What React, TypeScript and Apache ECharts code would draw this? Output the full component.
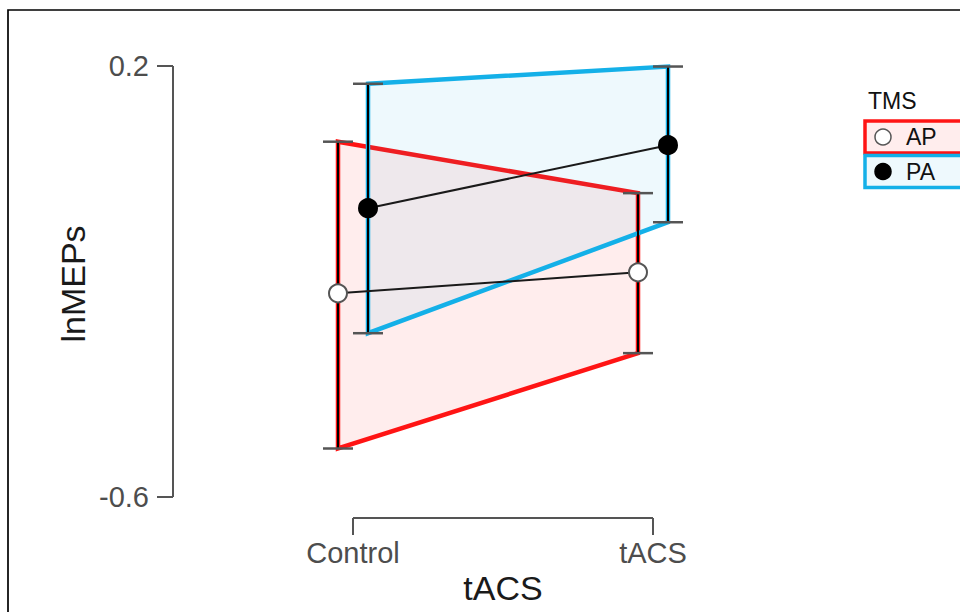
import React, { useEffect, useRef } from "react";
import * as echarts from "echarts";

const categories = ["Control", "tACS"];
const groupNames = ["AP", "PA"];
const apMean = [-0.222, -0.183];
const apLower = [-0.51, -0.333];
const apUpper = [0.0595, -0.036];
const paMean = [-0.064, 0.053];
const paLower = [-0.296, -0.09];
const paUpper = [0.167, 0.199];
const yTicks = [0.2, -0.6];
const legendTitle = "TMS";

const DODGE = 0.05;
const Y_MIN = -0.639;
const Y_MAX = 0.25;
const X_MIN = -0.6;
const X_MAX = 1.2;

const RED = "#ff1414";
const BLUE = "#14b0e8";
const FONT = "Liberation Sans";

type Group = { name: string; mean: number[]; lower: number[]; upper: number[]; dx: number; stroke: string; fill: string; pointFill: string };

const groups: Group[] = [
  { name: groupNames[0], mean: apMean, lower: apLower, upper: apUpper, dx: -DODGE, stroke: RED, fill: "rgba(255,0,0,0.07)", pointFill: "#ffffff" },
  { name: groupNames[1], mean: paMean, lower: paLower, upper: paUpper, dx: DODGE, stroke: BLUE, fill: "rgba(19,176,232,0.072)", pointFill: "#000000" },
];

export default function App() {
  const ref = useRef<HTMLDivElement>(null);
  useEffect(() => {
    if (!ref.current) return;
    const chart = echarts.init(ref.current, undefined, { renderer: "svg" });
    const series: any[] = [];
    // axis brackets
    series.push({
      type: "line",
      silent: true,
      clip: false,
      symbol: "none",
      data: [[X_MIN, yTicks[0]], [X_MIN, yTicks[1]]],
      lineStyle: { color: "#555555", width: 2 },
      z: 1,
    });
    series.push({
      type: "line",
      silent: true,
      clip: false,
      symbol: "none",
      data: [[0, Y_MIN], [categories.length - 1, Y_MIN]],
      lineStyle: { color: "#555555", width: 2 },
      z: 1,
    });
    groups.forEach((g) => {
      const rows = categories.map((_, i) => [i + g.dx, g.lower[i], g.upper[i]]);
      series.push({
        type: "custom",
        name: g.name + "-band",
        clip: false,
        silent: true,
        z: 2,
        data: [rows[0]],
        encode: { x: 0, y: [1, 2] },
        renderItem: (params: any, api: any) => {
          const top = rows.map((r) => api.coord([r[0], r[2]]));
          const bot = rows.slice().reverse().map((r) => api.coord([r[0], r[1]]));
          return {
            type: "polygon",
            shape: { points: [...top, ...bot] },
            style: { fill: g.fill, stroke: g.stroke, lineWidth: 4.5, lineJoin: "miter" },
          };
        },
      });
    });
    groups.forEach((g) => {
      const rows = categories.map((_, i) => [i + g.dx, g.lower[i], g.upper[i]]);
      series.push({
        type: "custom",
        name: g.name + "-err",
        clip: false,
        silent: true,
        z: 3,
        data: rows,
        encode: { x: 0, y: [1, 2] },
        renderItem: (params: any, api: any) => {
          const x = api.value(0);
          const hi = api.coord([x, api.value(2)]);
          const lo = api.coord([x, api.value(1)]);
          const hw = 15;
          return {
            type: "group",
            children: [
              { type: "line", shape: { x1: hi[0], y1: hi[1], x2: lo[0], y2: lo[1] }, style: { stroke: "#000000", lineWidth: 2 } },
              { type: "line", shape: { x1: hi[0] - hw, y1: hi[1], x2: hi[0] + hw, y2: hi[1] }, style: { stroke: "#555555", lineWidth: 2.5 } },
              { type: "line", shape: { x1: lo[0] - hw, y1: lo[1], x2: lo[0] + hw, y2: lo[1] }, style: { stroke: "#555555", lineWidth: 2.5 } },
            ],
          };
        },
      });
    });
    groups.forEach((g) => {
      series.push({
        type: "line",
        name: g.name,
        z: 4,
        clip: false,
        data: categories.map((_, i) => [i + g.dx, g.mean[i]]),
        symbol: "circle",
        symbolSize: 18,
        lineStyle: { color: "#1a1a1a", width: 2 },
        itemStyle: { color: g.pointFill, borderColor: g.pointFill === "#ffffff" ? "#555555" : "#000000", borderWidth: 2 },
      });
    });

    const legendItems: any[] = [
      { type: "text", left: 868, top: 89, style: { text: legendTitle, fontSize: 23, fill: "#111111", fontFamily: FONT } },
    ];
    groups.forEach((g, i) => {
      const y0 = 121 + i * 34.5;
      legendItems.push({ type: "rect", shape: { x: 865, y: y0, width: 200, height: 32 }, style: { fill: g.fill, stroke: g.stroke, lineWidth: 3.5 } });
      legendItems.push({ type: "circle", shape: { cx: 883, cy: y0 + 16, r: 8 }, style: { fill: g.pointFill, stroke: g.pointFill === "#ffffff" ? "#555555" : "#000000", lineWidth: 1.5 } });
      legendItems.push({ type: "text", x: 906, y: y0 + 16, style: { text: g.name, fontSize: 23, fill: "#111111", fontFamily: FONT, verticalAlign: "middle" } });
    });

    chart.setOption({
      animation: false,
      textStyle: { fontFamily: FONT },
      grid: { left: 173, right: 247, top: 39.06, bottom: 94, containLabel: false },
      xAxis: {
        type: "value",
        min: X_MIN,
        max: X_MAX,
        axisLine: { show: false, onZero: false },
        splitLine: { show: false },
        axisTick: { show: true, length: 17, customValues: categories.map((_, i) => i), lineStyle: { color: "#555555", width: 2 } },
        axisLabel: {
          show: true,
          customValues: categories.map((_, i) => i),
          formatter: (v: number) => categories[Math.round(v)] ?? "",
          fontSize: 29,
          color: "#4d4d4d",
          margin: 20,
        },
      },
      yAxis: {
        type: "value",
        min: Y_MIN,
        max: Y_MAX,
        axisLine: { show: false, onZero: false },
        splitLine: { show: false },
        axisTick: { show: true, length: 16, customValues: yTicks, lineStyle: { color: "#555555", width: 2 } },
        axisLabel: { show: true, customValues: yTicks, formatter: (v: number) => String(v), fontSize: 29, color: "#4d4d4d", margin: 24 },
      },
      graphic: [
        { type: "rect", silent: true, shape: { x: 8, y: 10, width: 1000, height: 700 }, style: { fill: "none", stroke: "#000000", lineWidth: 1.7 }, z: 0 },
        { type: "text", x: 503, y: 588, style: { text: "tACS", fontSize: 34, fill: "#1a1a1a", fontFamily: FONT, align: "center", verticalAlign: "middle" } },
        { type: "text", x: 73, y: 284, rotation: Math.PI / 2, style: { text: "lnMEPs", fontSize: 34, fill: "#1a1a1a", fontFamily: FONT, align: "center", verticalAlign: "middle" } },
        ...legendItems,
      ],
      series,
    });
    return () => chart.dispose();
  }, []);
  return <div ref={ref} style={{ position: "fixed", left: 0, top: 0, width: 960, height: 612, background: "#ffffff" }} />;
}
